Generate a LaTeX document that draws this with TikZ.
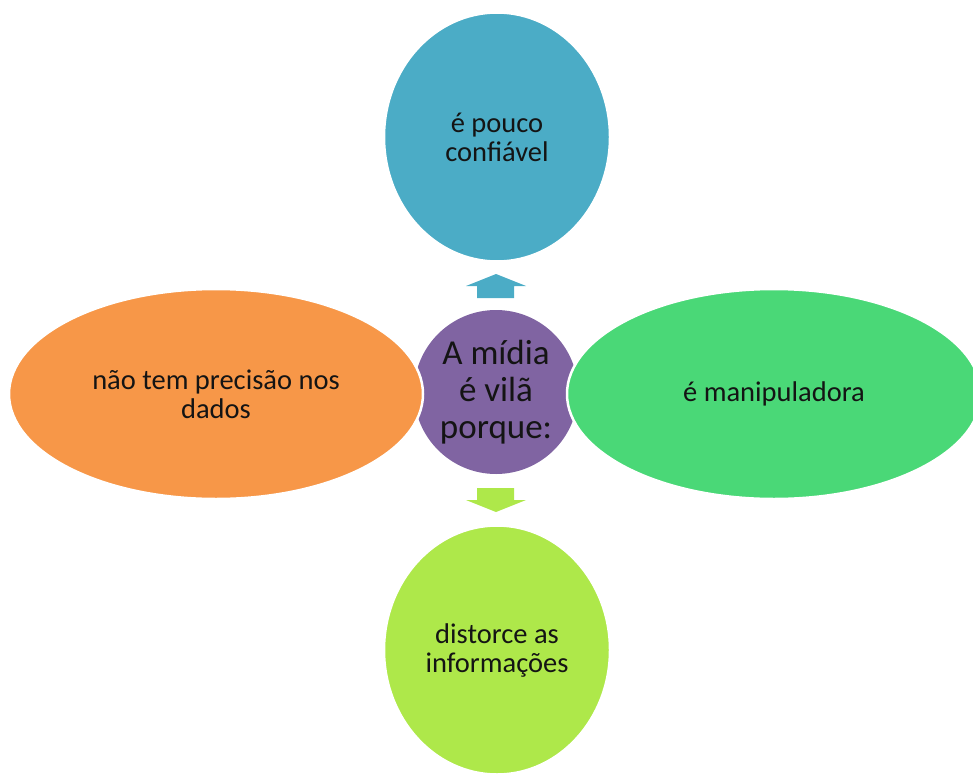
\documentclass[tikz,border=0pt]{standalone}
\usepackage{fontspec}
\setmainfont{Carlito}
\usetikzlibrary{shapes.geometric}
\definecolor{cblue}{HTML}{4BACC6}
\definecolor{cgreen}{HTML}{4AD877}
\definecolor{corange}{HTML}{F79748}
\definecolor{clime}{HTML}{AEE84A}
\definecolor{cpurple}{HTML}{8064A2}
\definecolor{ctext}{HTML}{141414}
\tikzset{
  petal/.style={ellipse, draw=white, line width=2.5pt, inner sep=0pt, align=center,
    text=ctext, font=\fontsize{28.5}{29}\selectfont},
  hub/.style={circle, fill=cpurple, inner sep=0pt, minimum size=164pt, align=center,
    text=ctext, font=\fontsize{35}{37}\selectfont},
}
\begin{document}
\begin{tikzpicture}[x=1pt,y=-1pt]
\useasboundingbox (0,0) rectangle (973,773);
\node[hub] (hub) at (496,392) {A mídia\\é vilã\\porque:};
% arrows
\fill[cblue] (477,298) -- (477,286) -- (466,286) -- (496,274) -- (526,286) -- (514,286) -- (514,298) -- cycle;
\fill[clime] (477,488) -- (477,500) -- (466,500) -- (496,512) -- (526,500) -- (514,500) -- (514,488) -- cycle;
\node[petal, fill=cblue, minimum width=226pt, minimum height=249pt] (top) at (497,137) {é pouco\\confiável};
\node[petal, fill=clime, minimum width=226pt, minimum height=249pt] (bot) at (497,650) {distorce as\\informações};
\node[petal, fill=corange, minimum width=414pt, minimum height=210pt] (left) at (216,394) {não tem precisão nos\\dados};
\node[petal, fill=cgreen, minimum width=414pt, minimum height=210pt] (right) at (774,394) {é manipuladora};
\end{tikzpicture}
\end{document}
